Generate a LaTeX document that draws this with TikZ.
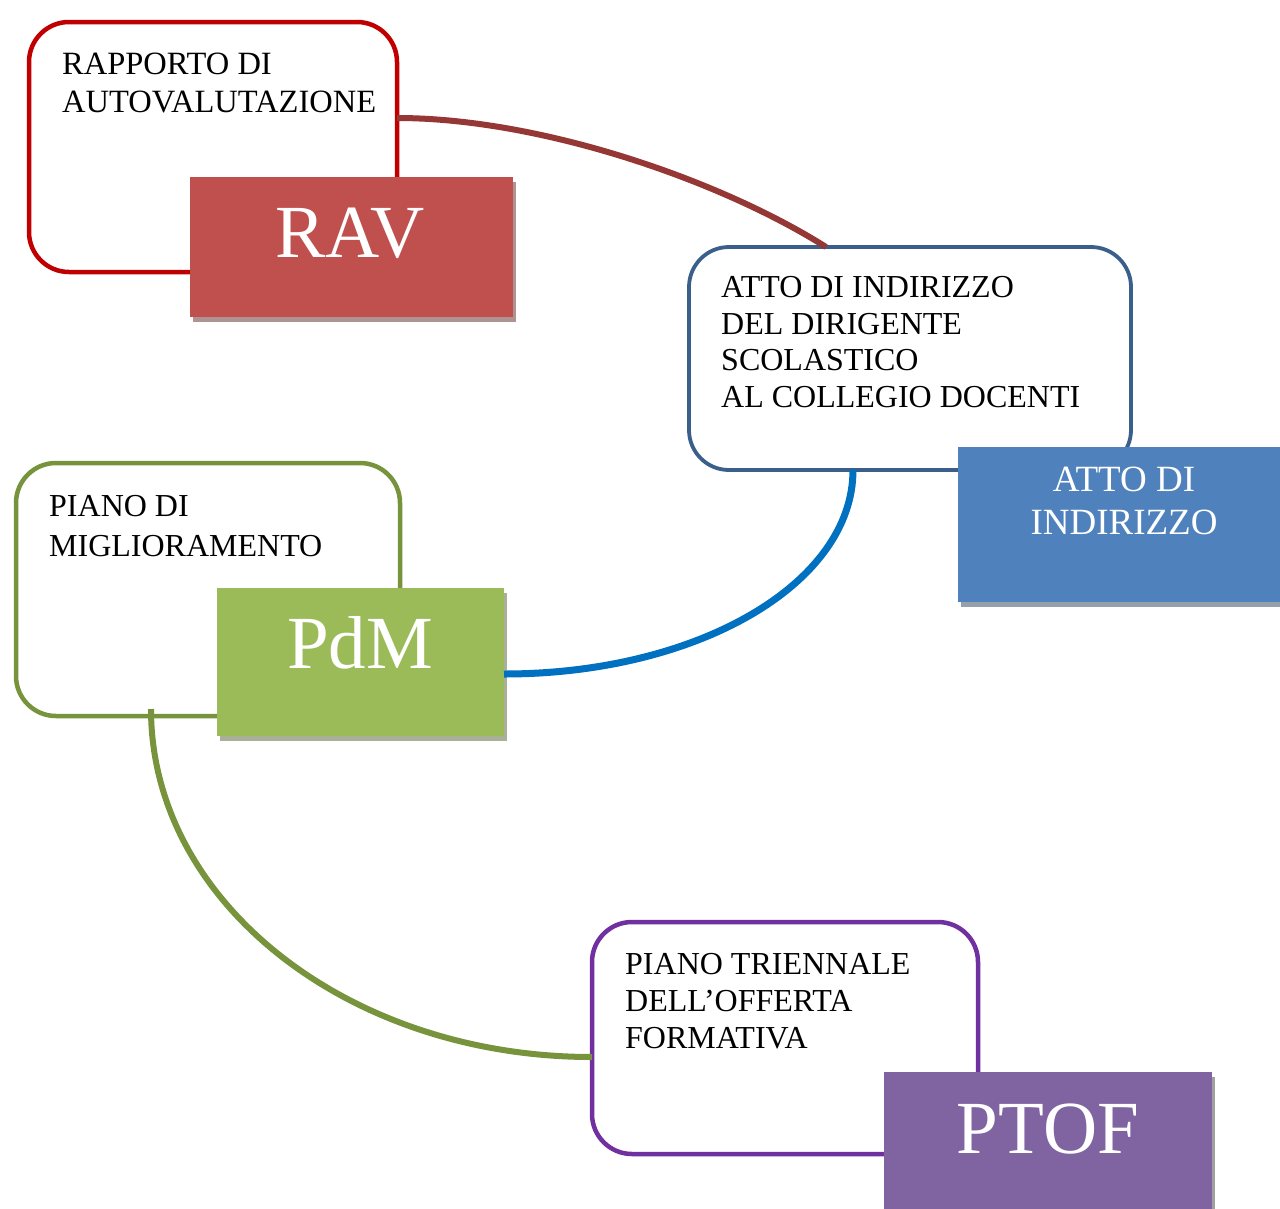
\documentclass[tikz,border=0pt]{standalone}
\usepackage{fontspec}
\setmainfont{Liberation Serif}
\usetikzlibrary{shadows}
\definecolor{ravline}{HTML}{C00000}
\definecolor{ravfill}{HTML}{C0504D}
\definecolor{ravsh}{HTML}{B09292}
\definecolor{attline}{HTML}{3A5F8B}
\definecolor{attfill}{HTML}{4F81BD}
\definecolor{attsh}{HTML}{95A0AD}
\definecolor{pdmline}{HTML}{77933C}
\definecolor{pdmfill}{HTML}{9BBB59}
\definecolor{pdmsh}{HTML}{A8B098}
\definecolor{ptline}{HTML}{7030A0}
\definecolor{ptfill}{HTML}{8064A2}
\definecolor{ptsh}{HTML}{A0A0A0}
\definecolor{cbrown}{HTML}{953735}
\definecolor{cblue}{HTML}{0070C0}
\definecolor{cgreen}{HTML}{77933C}
\tikzset{
  outbox/.style={draw, line width=4.5pt, rounded corners=40pt, anchor=north west, inner sep=0pt, outer sep=0pt},
  fillbox/.style={anchor=north west, inner sep=0pt, outer sep=0pt},
  smalltext/.style={anchor=north west, inner sep=0pt, align=left, text=black},
  bigtext/.style={anchor=base, inner sep=0pt, text=white, font=\fontsize{75}{80}\selectfont},
  conn/.style={line width=6pt, line cap=butt},
}
\begin{document}
\begin{tikzpicture}[x=1pt, y=-1pt]
\useasboundingbox[fill=white] (0,0) rectangle (1280,1208);
% outlines
\node[outbox, draw=ravline, minimum width=368pt, minimum height=250pt] (ravout) at (29,22) {};
\node[outbox, draw=attline, line width=3.8pt, minimum width=442pt, minimum height=223pt] (attout) at (689,247) {};
\node[outbox, draw=pdmline, minimum width=384pt, minimum height=253pt] (pdmout) at (16,463) {};
\node[outbox, draw=ptline, minimum width=386pt, minimum height=232pt] (ptout) at (592,922) {};
% connectors
\draw[conn, cbrown] (ravout.east |- 0,118) .. controls (540,118) and (720,180) .. (attout.north -| 826,0);
\draw[conn, cgreen] ([yshift=7pt]pdmout.south -| 151,0) .. controls (151,902) and (348,1057) .. (ptout.west |- 0,1057);
% filled boxes
\node[fillbox, fill=ravfill, drop shadow={shadow xshift=3pt, shadow yshift=-5pt, fill=ravsh, opacity=1}, minimum width=323pt, minimum height=140pt] (rav) at (190,177) {};
\node[fillbox, fill=attfill, drop shadow={shadow xshift=3pt, shadow yshift=-5pt, fill=attsh, opacity=1}, minimum width=325pt, minimum height=155pt] (att) at (958,447) {};
\node[fillbox, fill=pdmfill, drop shadow={shadow xshift=3pt, shadow yshift=-5pt, fill=pdmsh, opacity=1}, minimum width=287pt, minimum height=148pt] (pdm) at (217,588) {};
\node[fillbox, fill=ptfill, drop shadow={shadow xshift=3pt, shadow yshift=-5pt, fill=ptsh, opacity=1}, minimum width=328pt, minimum height=140pt] (pt) at (884,1072) {};
\draw[conn, cblue, line width=7pt] (attout.south -| 853,0) .. controls (853,584) and (697,674) .. (pdm.east |- 0,674);
% small texts
\node[smalltext, font=\fontsize{32.5}{38}\selectfont] (ravtxt) at (62,53) {RAPPORTO DI\\AUTOVALUTAZIONE};
\node[smalltext, font=\fontsize{32}{36.7}\selectfont] (atttxt) at (721,276) {ATTO DI INDIRIZZO\\DEL DIRIGENTE\\SCOLASTICO\\AL COLLEGIO DOCENTI};
\node[smalltext, font=\fontsize{32}{40}\selectfont] (pdmtxt) at (49,495) {PIANO DI\\MIGLIORAMENTO};
\node[smalltext, font=\fontsize{32}{37}\selectfont] (pttxt) at (625,953) {PIANO TRIENNALE\\DELL’OFFERTA\\FORMATIVA};
% big labels
\node[bigtext] (ravlab) at (350,257) {RAV};
\node[bigtext] (pdmlab) at (360,668) {PdM};
\node[bigtext] (ptlab) at (1048,1153) {PTOF};
\node[anchor=north, inner sep=0pt, text=white, align=center, font=\fontsize{37}{43}\selectfont] (attlab) at (1124,467) {ATTO DI\\INDIRIZZO};
\end{tikzpicture}
\end{document}
